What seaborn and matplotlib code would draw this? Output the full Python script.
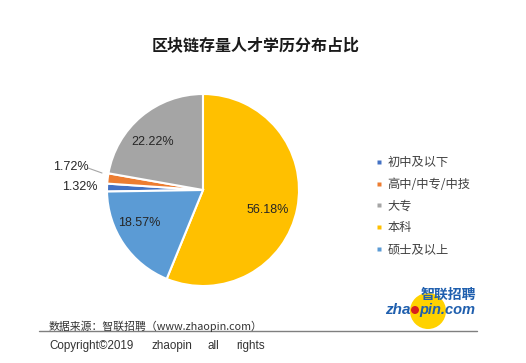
import numpy as np
import matplotlib
matplotlib.use("Agg")
import matplotlib.pyplot as plt
import seaborn as sns
from matplotlib.patches import Ellipse
from matplotlib.lines import Line2D

categories = ["初中及以下", "高中/中专/中技", "大专", "本科", "硕士及以上"]
values = [1.32, 1.72, 22.22, 56.18, 18.57]
value_labels = ["1.32%", "1.72%", "22.22%", "56.18%", "18.57%"]
colors = ["#4472C4", "#ED7D31", "#A5A5A5", "#FFC000", "#5B9BD5"]
title = "区块链存量人才学历分布占比"
source_text = "数据来源：智联招聘（www.zhaopin.com）"
copyright_words = ["Copyright©2019", "zhaopin", "all", "rights"]

sns.set_theme(style="white")
plt.rcParams['font.family'] = ['Noto Sans CJK SC', 'DejaVu Sans']

W, H = 526, 363
fig = plt.figure(figsize=(W / 100, H / 100), dpi=100)
fig.patch.set_facecolor("white")

def px(x, y):
    return x / W, 1 - y / H

def circle_px(x, y, rad, color):
    fig.add_artist(Ellipse(px(x, y), 2 * rad / W, 2 * rad / H,
                           transform=fig.transFigure, facecolor=color,
                           edgecolor="none"))

# pie axes: center (203,190), radius 96 px
cx, cy, r = 203, 190, 96
ax = fig.add_axes([(cx - r) / W, (H - cy - r) / H, 2 * r / W, 2 * r / H])
start = 90 + 360 * sum(values[:3]) / sum(values)
wedges, _ = ax.pie(values, colors=colors, startangle=start, counterclock=False,
                   wedgeprops=dict(edgecolor="white", linewidth=1.5))
ax.set_xlim(-1, 1)
ax.set_ylim(-1, 1)
ax.set_aspect("equal")
ax.axis("off")

lab_font = dict(family="Liberation Sans", fontsize=9, color="#262626")
# (radial distance, angular shift in degrees) for inside labels
inner_pos = {2: (0.73, 6.5), 3: (0.71, -6.0), 4: (0.75, -7.0)}
for i, w in enumerate(wedges):
    if i in inner_pos:
        d, sh = inner_pos[i]
        ang = np.deg2rad((w.theta1 + w.theta2) / 2 + sh)
        ax.text(d * np.cos(ang), d * np.sin(ang), value_labels[i],
                ha="center", va="center", **lab_font)

# small-slice labels outside
ax.text(-1.38, 0.24, value_labels[1], ha="center", va="center", clip_on=False, **lab_font)
ax.plot([-1.198, -1.052], [0.229, 0.177], color="#A6A6A6", lw=0.8, clip_on=False)
ax.text(-1.28, 0.03, value_labels[0], ha="center", va="center", clip_on=False, **lab_font)

# title
fig.text(*px(256, 45), title, ha="center", va="center", fontsize=11.5,
         fontweight="bold", color="#1a1a1a")

# legend
handles = [Line2D([], [], linestyle="none", marker="s", markersize=3.2,
                  markerfacecolor=c, markeredgecolor="none") for c in colors]
leg = fig.legend(handles, categories, loc="upper left",
                 bbox_to_anchor=px(377, 156), frameon=False, fontsize=8.8,
                 handlelength=0.4, handletextpad=0.45,
                 labelspacing=0.72, borderaxespad=0, borderpad=0)
for t in leg.get_texts():
    t.set_color("#404040")

# source & copyright
fig.text(*px(49, 326), source_text, ha="left", va="center", fontsize=7.8, color="#333333")
fig.add_artist(plt.Line2D([39 / W, 477 / W], [1 - 331 / H] * 2, color="#7f7f7f", lw=1.0))
for word, x in zip(copyright_words, [49, 151, 208, 236]):
    fig.text(*px(x, 346), word, ha="left", va="center", fontsize=8.4,
             color="#333333", family="Liberation Sans")

# logo
circle_px(428, 311, 18, "#FFD200")
blue = "#1F5FAE"
fig.text(*px(448, 295), "智联招聘", ha="center", va="center", fontsize=10,
         color=blue, fontweight="bold", style="italic")
fig.text(*px(385, 314), "zha", ha="left", va="baseline", fontsize=11, color=blue,
         fontweight="bold", style="italic", family="Liberation Sans")
circle_px(415, 310, 4, "#D81E1E")
fig.text(*px(419, 314), "pin.com", ha="left", va="baseline", fontsize=10.5, color=blue,
         fontweight="bold", style="italic", family="Liberation Sans")

fig.savefig("out.png", dpi=100, facecolor="white")
